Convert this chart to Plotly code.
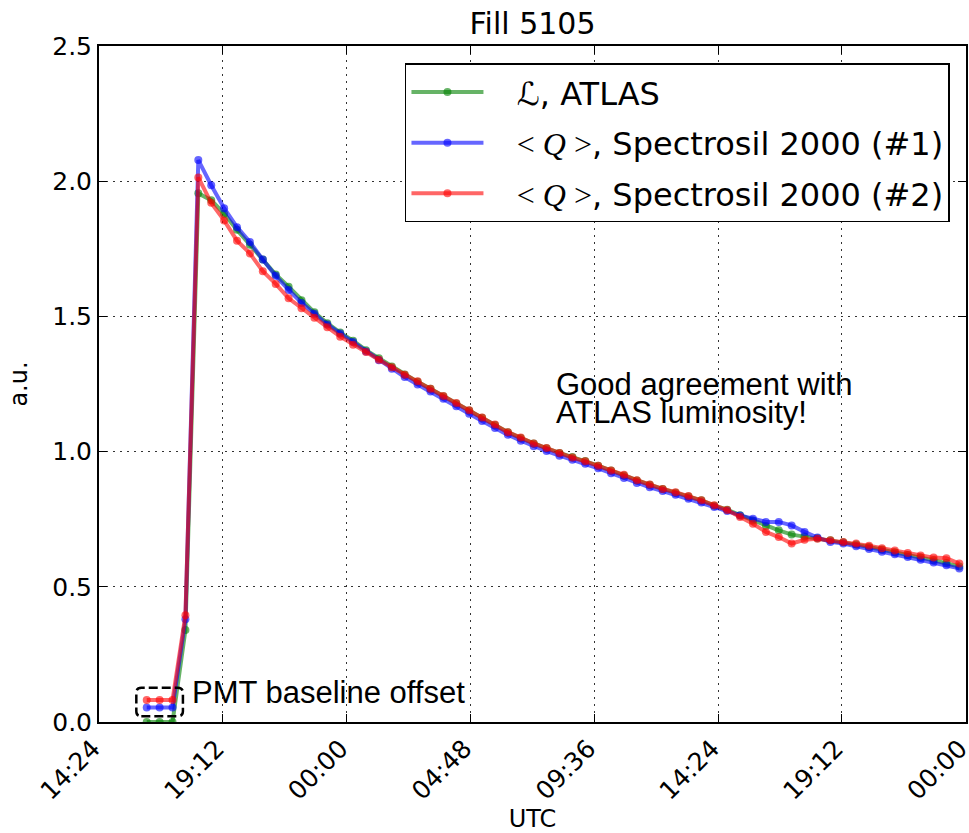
import pandas as pd
import plotly.graph_objects as go

# ---------------- data ----------------
START_TIME = "2016-07-19 16:15"
N_POINTS = 64
STEP = "30min"
times = pd.date_range(START_TIME, periods=N_POINTS, freq=STEP)

atlas = [0.0, 0.0, 0.0, 0.34, 1.955, 1.93, 1.88, 1.82, 1.765, 1.71, 1.655, 1.61,
         1.56, 1.515, 1.475, 1.44, 1.41, 1.375, 1.345, 1.315, 1.285, 1.258, 1.232, 1.205,
         1.178, 1.152, 1.125, 1.098, 1.072, 1.05, 1.03, 1.012, 0.995, 0.98, 0.965, 0.948,
         0.93, 0.912, 0.893, 0.877, 0.862, 0.848, 0.834, 0.82, 0.80, 0.785, 0.765, 0.745,
         0.725, 0.709, 0.693, 0.686, 0.68, 0.672, 0.665, 0.656, 0.647, 0.638, 0.628, 0.618,
         0.608, 0.598, 0.588, 0.575]

spectrosil_1 = [0.054, 0.054, 0.054, 0.38, 2.078, 1.985, 1.9, 1.83, 1.775, 1.71, 1.65, 1.598,
                1.55, 1.51, 1.47, 1.437, 1.405, 1.37, 1.338, 1.306, 1.276, 1.248, 1.222, 1.195,
                1.168, 1.14, 1.113, 1.087, 1.062, 1.04, 1.02, 1.002, 0.985, 0.97, 0.955, 0.938,
                0.92, 0.902, 0.884, 0.868, 0.854, 0.84, 0.826, 0.812, 0.795, 0.78, 0.764, 0.752,
                0.74, 0.74, 0.727, 0.703, 0.682, 0.666, 0.66, 0.65, 0.64, 0.63, 0.62, 0.61,
                0.6, 0.59, 0.58, 0.568]

spectrosil_2 = [0.081, 0.081, 0.081, 0.395, 2.014, 1.92, 1.855, 1.78, 1.733, 1.667, 1.62, 1.567,
                1.53, 1.495, 1.46, 1.425, 1.395, 1.368, 1.34, 1.312, 1.284, 1.26, 1.232, 1.206,
                1.18, 1.153, 1.126, 1.1, 1.072, 1.052, 1.03, 1.013, 0.995, 0.978, 0.964, 0.948,
                0.93, 0.914, 0.894, 0.878, 0.862, 0.85, 0.836, 0.82, 0.802, 0.784, 0.758, 0.733,
                0.703, 0.684, 0.66, 0.674, 0.678, 0.672, 0.666, 0.66, 0.652, 0.643, 0.634, 0.625,
                0.616, 0.608, 0.606, 0.586]

x_tick_values = ["2016-07-19 14:24", "2016-07-19 19:12", "2016-07-20 00:00", "2016-07-20 04:48",
                 "2016-07-20 09:36", "2016-07-20 14:24", "2016-07-20 19:12", "2016-07-21 00:00"]
x_tick_labels = ["14:24", "19:12", "00:00", "04:48", "09:36", "14:24", "19:12", "00:00"]
x_range = ["2016-07-19 14:24", "2016-07-21 00:00:30"]
y_tick_values = [0.0, 0.5, 1.0, 1.5, 2.0, 2.5]
y_tick_labels = ["0.0", "0.5", "1.0", "1.5", "2.0", "2.5"]

LEAD = "&nbsp;&nbsp;&#8197;"
Q_MATH = "<span style='font-family:Liberation Serif'>&lt;&nbsp;<i>Q</i>&nbsp;&gt;</span>"
series_names = [
    LEAD + "ℒ, ATLAS",
    LEAD + Q_MATH + ", Spectrosil 2000 (#1)",
    LEAD + Q_MATH + ", Spectrosil 2000 (#2)",
]
series_values = [atlas, spectrosil_1, spectrosil_2]
series_colors = ["rgba(0,128,0,0.6)", "rgba(0,0,255,0.6)", "rgba(255,0,0,0.6)"]

# annotation anchors
offset_box_x = "2016-07-19 16:45"
offset_box_y = 0.074

# ---------------- figure ----------------
fig = go.Figure()
for i, (name, vals, col) in enumerate(zip(series_names, series_values, series_colors)):
    fig.add_trace(go.Scatter(
        x=times, y=vals, mode="lines+markers", name=name,
        legendgroup=f"g{i}",
        line=dict(color=col, width=4),
        marker=dict(color=col, size=8, line=dict(width=0)),
    ))

axis_common = dict(
    showline=True, linecolor="black", linewidth=2, mirror="ticks",
    ticks="inside", ticklen=8, tickwidth=1, tickcolor="black",
    showgrid=True, gridcolor="#333333", gridwidth=1, griddash="2px,5px",
    zeroline=False, automargin=False,
    tickfont=dict(family="DejaVu Sans", size=25, color="black"),
)

fig.update_layout(
    width=969, height=833,
    margin=dict(l=99, r=3, t=46, b=111),
    plot_bgcolor="white", paper_bgcolor="white",
    title=dict(text="Fill 5105", x=0.5, xref="paper", xanchor="center",
               y=1 - 23 / 833, yref="container", yanchor="middle",
               font=dict(family="DejaVu Sans", size=30, color="black")),
    xaxis=dict(axis_common, type="date",
               range=x_range,
               tickmode="array", tickvals=x_tick_values, ticktext=x_tick_labels,
               tickangle=-45, ticklabeloverflow="allow", ticklabelshift=-6,
               title=dict(text="UTC", standoff=10,
                          font=dict(family="DejaVu Sans", size=24, color="black"))),
    yaxis=dict(axis_common, range=[0, 2.5],
               tickmode="array", tickvals=y_tick_values, ticktext=y_tick_labels,
               title=dict(text="a.u.", standoff=18,
                          font=dict(family="DejaVu Sans", size=24, color="black"))),
    legend=dict(x=0.9815, xanchor="right", y=0.9744, yanchor="top",
                bgcolor="white", bordercolor="black", borderwidth=1.5,
                font=dict(family="DejaVu Sans", size=32, color="black"),
                itemwidth=72, tracegroupgap=6, traceorder="grouped"),
    showlegend=True,
)

# dashed rounded box around PMT baseline offset
fig.add_shape(
    type="path", xref="x", yref="y",
    xsizemode="pixel", ysizemode="pixel",
    xanchor=offset_box_x, yanchor=offset_box_y,
    path="M -18.3,-14.2 L 18.3,-14.2 Q 23.3,-14.2 23.3,-9.2 L 23.3,9.2 Q 23.3,14.2 18.3,14.2 "
         "L -18.3,14.2 Q -23.3,14.2 -23.3,9.2 L -23.3,-9.2 Q -23.3,-14.2 -18.3,-14.2 Z",
    line=dict(color="black", width=2.5, dash="9px,4px"),
)

ann_font = dict(family="Liberation Sans, Arial", size=31, color="black")
fig.add_annotation(x="2016-07-19 17:55", y=0.11, xref="x", yref="y",
                   text="PMT baseline offset", showarrow=False,
                   xanchor="left", yanchor="middle", font=ann_font)
fig.add_annotation(x="2016-07-20 08:03", y=1.25, xref="x", yref="y",
                   text="Good agreement with", showarrow=False,
                   xanchor="left", yanchor="middle", font=ann_font)
fig.add_annotation(x="2016-07-20 08:03", y=1.146, xref="x", yref="y",
                   text="ATLAS luminosity!", showarrow=False,
                   xanchor="left", yanchor="middle", font=ann_font)

fig.write_html("out.html")
